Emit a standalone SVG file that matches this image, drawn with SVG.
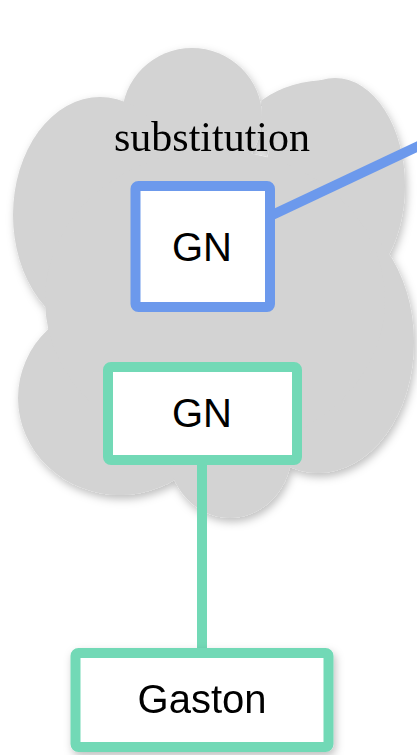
<svg xmlns="http://www.w3.org/2000/svg" width="417" height="755" viewBox="0 0 417 755">
  <defs>
    <filter id="shadow" x="-20%" y="-20%" width="140%" height="140%">
      <feDropShadow dx="2" dy="4" stdDeviation="4" flood-color="#000" flood-opacity="0.25"/>
    </filter>
    <style>
      .cloud { fill: #d3d3d3; }
      .box { fill: #ffffff; stroke-width: 10; }
      .blue { stroke: #6c99ec; }
      .green { stroke: #72d9b6; }
      .label { font-family: "Liberation Sans", Arial, sans-serif; font-size: 40px; fill: #000; text-anchor: middle; }
      .title { font-family: "Liberation Serif", "Times New Roman", serif; font-size: 42px; fill: #000; text-anchor: middle; }
      .edge { fill: none; stroke-width: 10; }
    </style>
  </defs>

  <!-- cloud region built from overlapping lobes -->
  <g id="cloud" filter="url(#shadow)">
    <g class="cloud">
      <ellipse cx="192" cy="117" rx="70" ry="69"/>
      <ellipse cx="100" cy="215" rx="87" ry="118"/>
      <ellipse cx="335" cy="186" rx="70" ry="108"/>
      <path d="M262 100 Q 290 80 330 80 L 330 150 L 262 150 Z"/>
      <ellipse cx="318" cy="342" rx="96" ry="131"/>
      <ellipse cx="120" cy="398" rx="102" ry="97"/>
      <ellipse cx="230" cy="450" rx="62" ry="68"/>
      <ellipse cx="215" cy="300" rx="170" ry="150"/>
    </g>
    <text class="title" x="212" y="151">substitution</text>
  </g>

  <!-- connectors -->
  <g id="connectors">
    <line class="edge blue" x1="268" y1="217" x2="425" y2="143"/>
    <line class="edge green" x1="202" y1="460" x2="202" y2="653"/>
  </g>

  <g id="node-gn-blue">
    <rect class="box blue" x="135.5" y="186" width="134.5" height="121" rx="3"/>
    <text class="label" x="202" y="261">GN</text>
  </g>

  <g id="node-gn-green">
    <rect class="box green" x="108" y="367" width="189" height="93" rx="3"/>
    <text class="label" x="202" y="427">GN</text>
  </g>

  <g id="node-gaston" filter="url(#shadow)">
    <rect class="box green" x="75.5" y="653" width="253" height="94" rx="3"/>
    <text class="label" x="202" y="713">Gaston</text>
  </g>
</svg>
